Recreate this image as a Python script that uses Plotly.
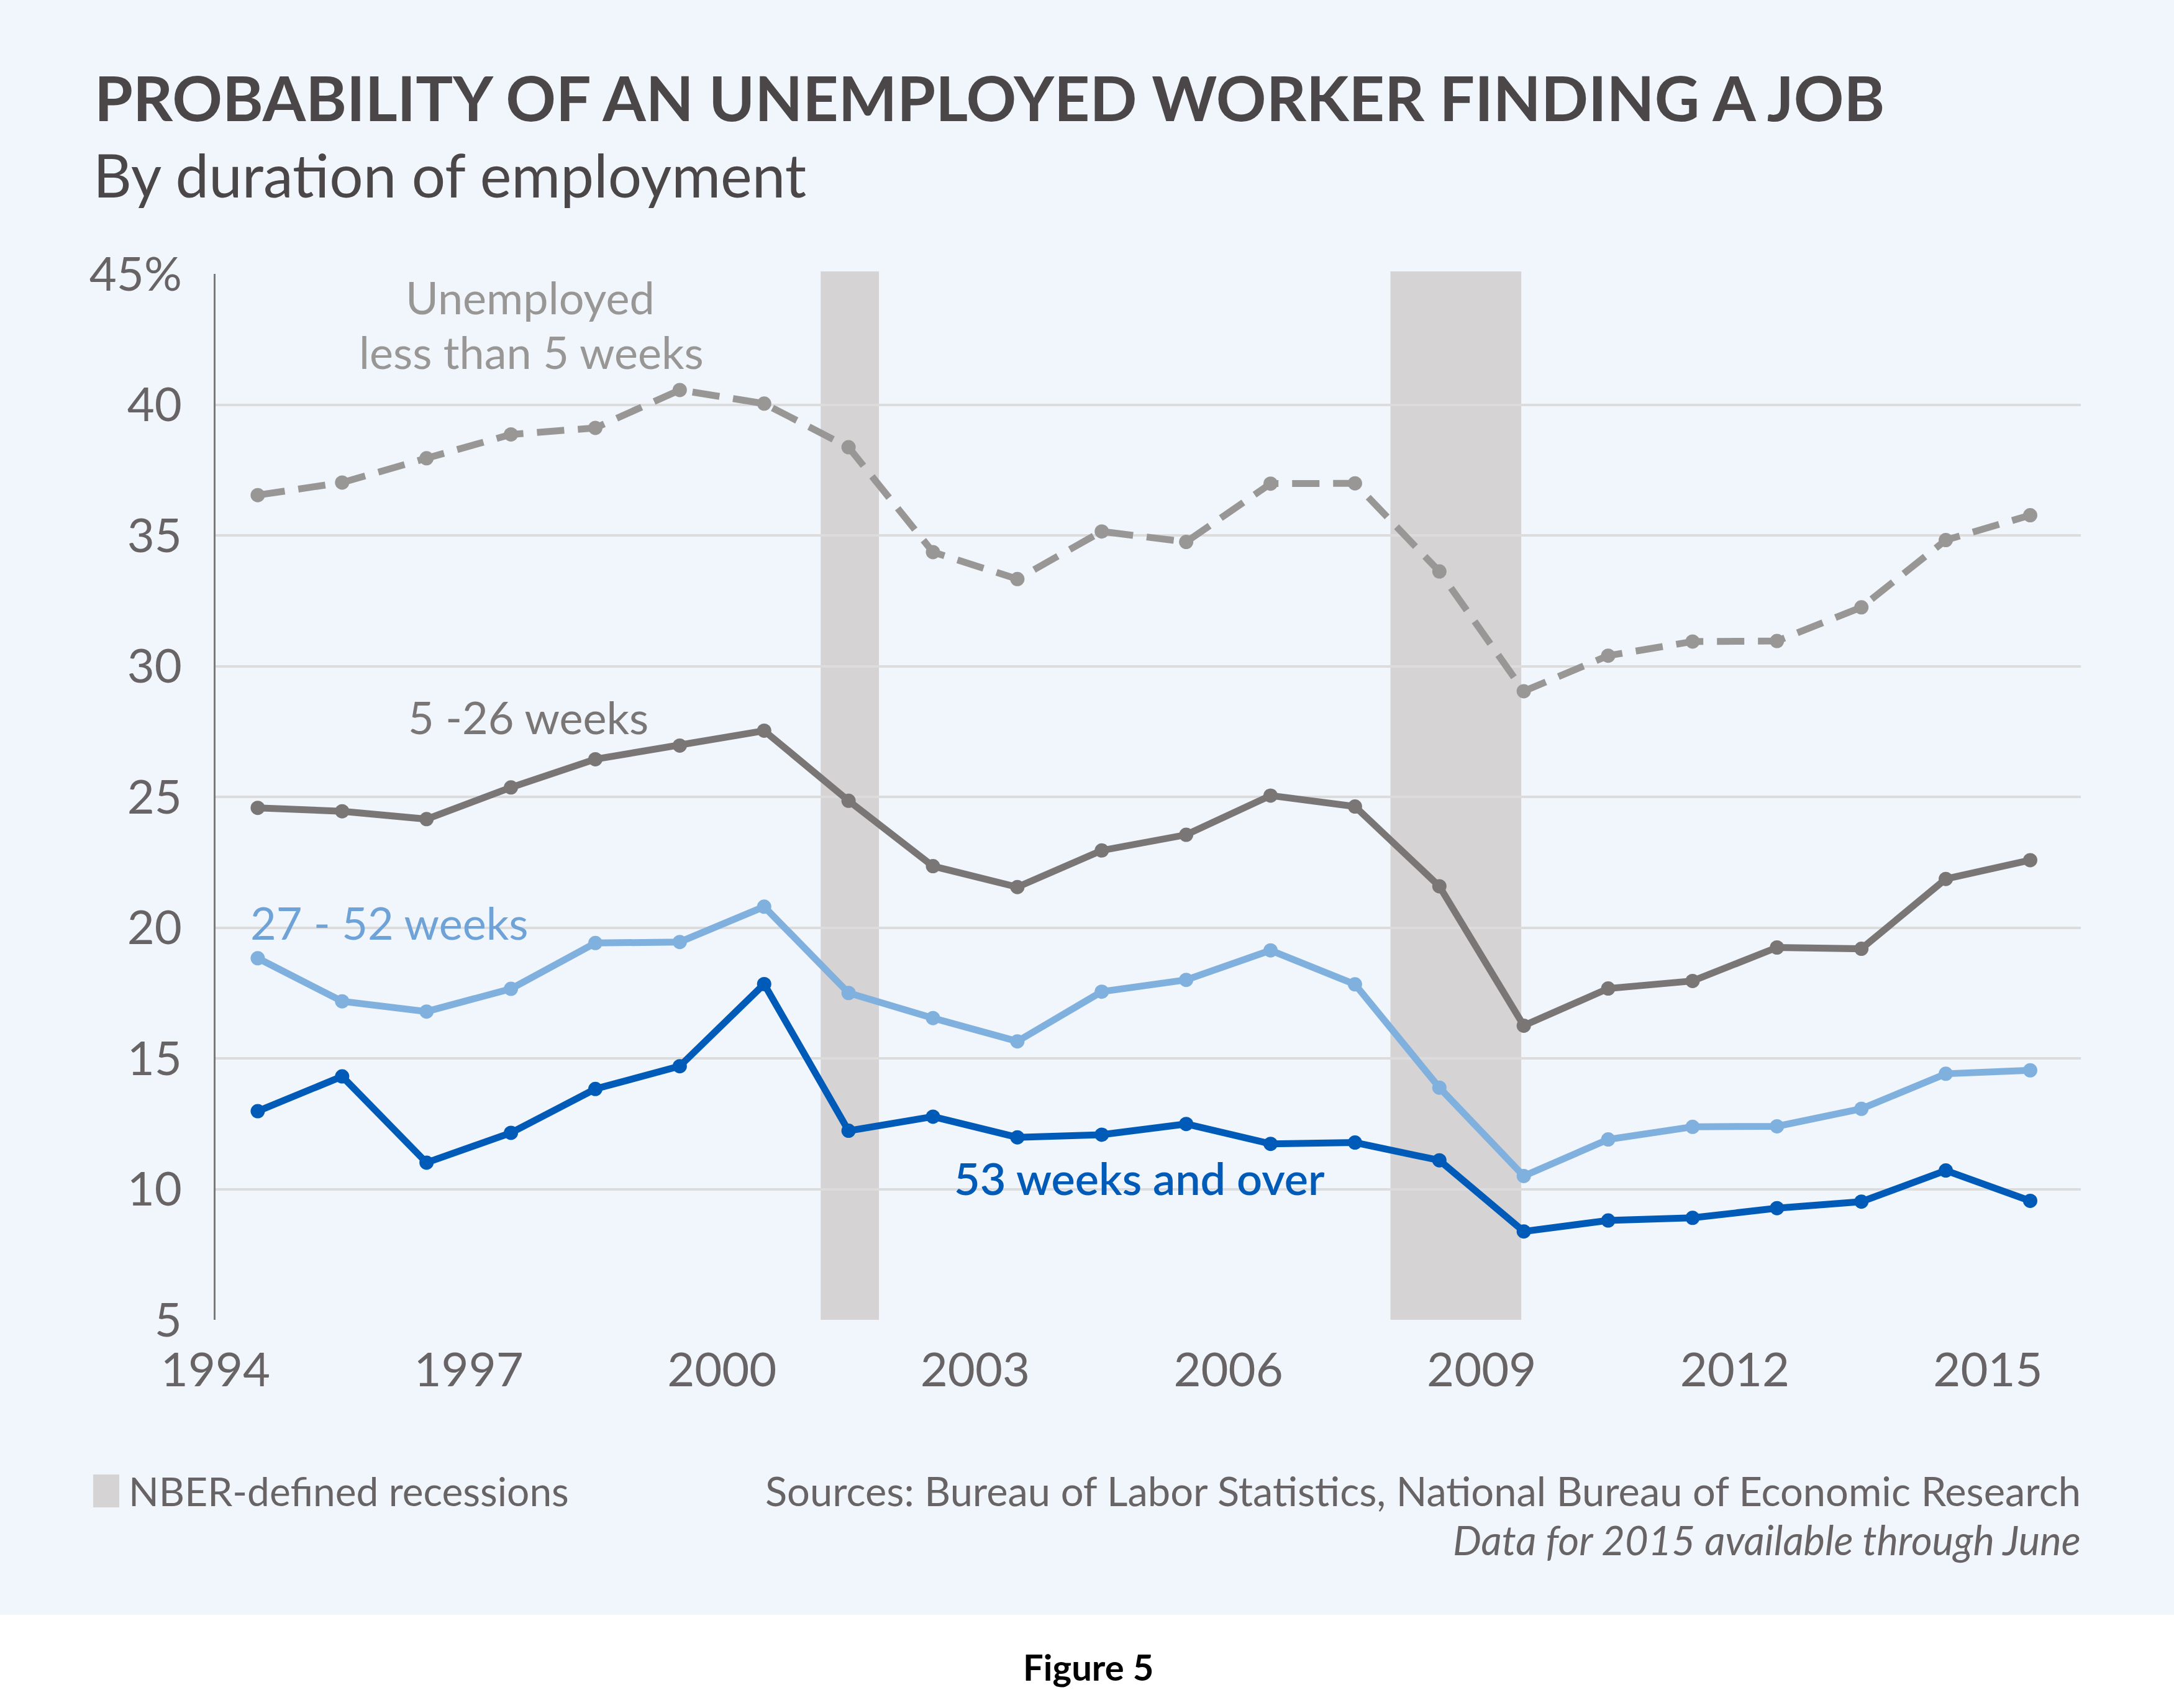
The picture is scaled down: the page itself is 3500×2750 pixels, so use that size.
import plotly.graph_objects as go

# ---------------- data ----------------
years = [1994.5 + i for i in range(22)]  # annual averages plotted mid-year

less_than_5 = [36.54, 37.02, 37.95, 38.86, 39.11, 40.56, 40.04, 38.37, 34.36, 33.33, 35.15,
               34.75, 36.98, 36.99, 33.62, 29.04, 30.40, 30.94, 30.96, 32.25, 34.82, 35.77]
w5_26 = [24.58, 24.45, 24.15, 25.36, 26.44, 26.96, 27.53, 24.85, 22.35, 21.55, 22.95,
         23.55, 25.05, 24.63, 21.58, 16.25, 17.67, 17.96, 19.24, 19.19, 21.86, 22.58]
w27_52 = [18.83, 17.18, 16.79, 17.66, 19.41, 19.45, 20.80, 17.50, 16.54, 15.65, 17.55,
          18.00, 19.13, 17.83, 13.88, 10.50, 11.90, 12.38, 12.40, 13.07, 14.41, 14.54]
w53_plus = [12.98, 14.31, 11.01, 12.15, 13.83, 14.70, 17.84, 12.23, 12.77, 11.98, 12.08,
            12.49, 11.73, 11.78, 11.10, 8.38, 8.80, 8.90, 9.27, 9.52, 10.71, 9.55]

recessions = [(2001.17, 2001.86), (2007.92, 2009.47)]

y_tickvals = [5, 10, 15, 20, 25, 30, 35, 40, 45]
y_ticktext = ["5", "10", "15", "20", "25", "30", "35", "40", "45%"]
x_tickvals = [1994, 1997, 2000, 2003, 2006, 2009, 2012, 2015]
x_ticktext = ["1994", "1997", "2000", "2003", "2006", "2009", "2012", "2015"]

# ---------------- styling ----------------
FONT = "Lato"
BG = "#F0F6FB"
C_LT5 = "#999795"
C_5_26 = "#7A7675"
C_27_52 = "#80B0DE"
C_53 = "#005BB8"
TICK_C = "#686465"
TITLE_C = "#4B4748"
BAND_C = "#D5D3D4"

W, H = 3500, 2750
L, R, T, B = 347, 3350, 441, 2125
PW, PH = R - L, B - T


def px(x):
    return (x - L) / PW


def py(y):
    return (B - y) / PH


fig = go.Figure()

series = [
    (less_than_5, C_LT5, "dash", "Unemployed less than 5 weeks"),
    (w5_26, C_5_26, "solid", "5 -26 weeks"),
    (w27_52, C_27_52, "solid", "27 - 52 weeks"),
    (w53_plus, C_53, "solid", "53 weeks and over"),
]
for vals, col, dash, name in series:
    fig.add_trace(go.Scatter(
        x=years, y=vals, mode="lines+markers", name=name,
        line=dict(color=col, width=11, dash=("44px,22px" if dash == "dash" else "solid")),
        marker=dict(color=col, size=23),
        showlegend=False,
    ))

shapes = []
# light blue background panel
shapes.append(dict(type="rect", xref="paper", yref="paper", x0=px(0), x1=px(W), y0=py(2600), y1=py(0),
                   fillcolor=BG, line=dict(width=0), layer="below"))
# recession bands
for a, b in recessions:
    shapes.append(dict(type="rect", xref="x", yref="paper", x0=a, x1=b, y0=0, y1=py(437),
                       fillcolor=BAND_C, line=dict(width=0), layer="between"))
# legend swatch
shapes.append(dict(type="rect", xref="paper", yref="paper", x0=px(150), x1=px(192), y0=py(2427), y1=py(2374),
                   fillcolor=BAND_C, line=dict(width=0), layer="above"))

annotations = []


def ann(text, x, y, size, color, xanchor="center", xref="paper", yref="paper", weight=None, italic=False):
    f = dict(family=FONT, size=size, color=color)
    if weight:
        f["weight"] = weight
    if italic:
        f["style"] = "italic"
    annotations.append(dict(text=text, x=x, y=y, xref=xref, yref=yref, xanchor=xanchor, yanchor="middle",
                            showarrow=False, font=f))


# title and subtitle
ann("PROBABILITY OF AN UNEMPLOYED WORKER FINDING A JOB", px(150), py(156), 100, TITLE_C, xanchor="left", weight=700)
ann("By duration of employment", px(148), py(280), 96, TITLE_C, xanchor="left", weight=400)

# series labels
ann("Unemployed", px(853), py(478), 72, C_LT5)
ann("less than 5 weeks", px(855), py(566), 72, C_LT5)
ann("5 -26 weeks", px(850), py(1154), 72, C_5_26)
ann("27 - 52 weeks", px(626), py(1485), 72, "#6FA3D8")
ann("53 weeks and over", px(1834), py(1896), 72, C_53, weight=600)

# footer
ann("NBER-defined recessions", px(205), py(2400), 64, TICK_C, xanchor="left")
ann("Sources: Bureau of Labor Statistics, National Bureau of Economic Research", px(3352), py(2400), 65, TICK_C,
    xanchor="right")
ann("Data for 2015 available through June", px(3352), py(2479), 65, TICK_C, xanchor="right", italic=True)
ann("Figure 5", px(1752), py(2683), 58, "#000000", weight=700)

fig.update_layout(
    width=W, height=H,
    margin=dict(l=L, r=W - R, t=T, b=H - B, autoexpand=False),
    paper_bgcolor="#FFFFFF",
    plot_bgcolor="rgba(0,0,0,0)",
    font=dict(family=FONT, color=TICK_C),
    shapes=shapes,
    annotations=annotations,
    xaxis=dict(
        range=[1994, 2016.1], tickvals=x_tickvals, ticktext=x_ticktext,
        showgrid=False, zeroline=False, showline=False, ticks="",
        tickfont=dict(family=FONT, size=76, color=TICK_C),
        ticklabelstandoff=30,
    ),
    yaxis=dict(
        range=[5, 45], tickvals=y_tickvals, ticktext=y_ticktext,
        showgrid=True, gridcolor="#DDDCDD", gridwidth=4, zeroline=False,
        showline=True, linecolor="#7A7A7A", linewidth=3, ticks="",
        tickfont=dict(family=FONT, size=76, color=TICK_C),
        ticklabelstandoff=36,
    ),
)

fig.write_html("out.html", config={"displayModeBar": False},
               post_script="document.body.style.margin='0';document.body.style.overflow='hidden';")
